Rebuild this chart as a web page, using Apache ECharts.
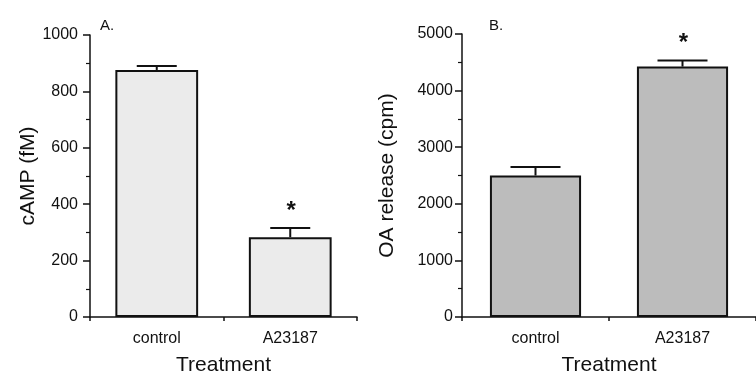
<!DOCTYPE html>
<html>
<head>
<meta charset="utf-8">
<script src="https://cdn.jsdelivr.net/npm/echarts@6/dist/echarts.min.js"></script>
<style>
  html, body { margin: 0; padding: 0; background: #fff; }
  #chart { width: 756px; height: 381px; }
</style>
</head>
<body>
<div id="chart"></div>
<script>
// categories
const treatments = ['control', 'A23187'];
// panel A: cAMP (fM)
const campMean = [876, 283];
const campErrTop = [890, 316];
const campSig = ['', '*'];
// panel B: OA release (cpm)
const oaMean = [2500, 4424];
const oaErrTop = [2651, 4534];
const oaSig = ['', '*'];

const FONT = 'Liberation Sans, Arial, Helvetica, sans-serif';

// error bar + asterisk drawn from the data through the axis scale
const errorSeries = (gridIndex, tops, sig, capHalf) => ({
    type: 'custom',
    xAxisIndex: gridIndex,
    yAxisIndex: gridIndex,
    data: tops.map((v, i) => [i, v]),
    z: 1,
    renderItem: function (params, api) {
        const idx = params.dataIndex;
        const top = api.coord([api.value(0), api.value(1)]);
        const base = api.coord([api.value(0), gridIndex === 0 ? campMean[idx] : oaMean[idx]]);
        const children = [
            { type: 'line', shape: { x1: top[0], y1: top[1], x2: base[0], y2: base[1] },
              style: { stroke: '#111', lineWidth: 2 } },
            { type: 'line', shape: { x1: top[0] - capHalf, y1: top[1], x2: top[0] + capHalf, y2: top[1] },
              style: { stroke: '#111', lineWidth: 2 } }
        ];
        if (sig[idx]) {
            children.push({
                type: 'text',
                style: { text: sig[idx], x: top[0] + 1, y: top[1] - 17, fill: '#111',
                         font: 'bold 24px ' + FONT, textAlign: 'center', textVerticalAlign: 'middle' }
            });
        }
        return { type: 'group', children: children };
    }
});

const yAxisCommon = {
    type: 'value',
    min: 0,
    splitLine: { show: false },
    axisLine: { show: true, lineStyle: { color: '#111', width: 1.5 } },
    axisTick: { show: true, length: 7, lineStyle: { color: '#111', width: 1.5 } },
    minorTick: { show: true, splitNumber: 2, length: 4, lineStyle: { color: '#111', width: 1.2 } },
    nameLocation: 'middle',
    nameTextStyle: { fontFamily: FONT, fontSize: 21, color: '#111' }
};

const xAxisCommon = {
    type: 'category',
    data: treatments,
    axisLine: { show: true, lineStyle: { color: '#111', width: 1.5 } },
    axisTick: { show: true, length: 4, lineStyle: { color: '#111', width: 1.5 } },
    axisLabel: { fontFamily: FONT, fontSize: 16, color: '#111', margin: 14 },
    name: 'Treatment',
    nameLocation: 'middle',
    nameGap: 38,
    nameTextStyle: { fontFamily: FONT, fontSize: 21, color: '#111' }
};

var chart = echarts.init(document.getElementById('chart'));
var option = {
    animation: false,
    backgroundColor: '#fff',
    grid: [
        { left: 90, right: 399, top: 35, bottom: 60 },
        { left: 462, right: -4, top: 34, bottom: 60 }
    ],
    title: [
        { text: 'A.', left: 95, top: 13, textStyle: { fontFamily: FONT, fontSize: 15, fontWeight: 'normal', color: '#111' } },
        { text: 'B.', left: 484, top: 13, textStyle: { fontFamily: FONT, fontSize: 15, fontWeight: 'normal', color: '#111' } }
    ],
    xAxis: [
        Object.assign({ gridIndex: 0 }, xAxisCommon),
        Object.assign({ gridIndex: 1 }, xAxisCommon)
    ],
    yAxis: [
        Object.assign({}, yAxisCommon, {
            gridIndex: 0, max: 1000, interval: 200,
            name: 'cAMP (fM)', nameGap: 50,
            axisLabel: { fontFamily: FONT, fontSize: 16, color: '#111', margin: 12, formatter: v => String(v) }
        }),
        Object.assign({}, yAxisCommon, {
            gridIndex: 1, max: 5000, interval: 1000,
            name: 'OA release (cpm)', nameGap: 64,
            axisLabel: { fontFamily: FONT, fontSize: 16, color: '#111', margin: 9, formatter: v => String(v) }
        })
    ],
    series: [
        {
            type: 'bar', xAxisIndex: 0, yAxisIndex: 0, data: campMean, barWidth: '62%', z: 2,
            itemStyle: { color: '#ebebeb', borderColor: '#111', borderWidth: 2 }
        },
        {
            type: 'bar', xAxisIndex: 1, yAxisIndex: 1, data: oaMean, barWidth: '62%', z: 2,
            itemStyle: { color: '#bcbcbc', borderColor: '#111', borderWidth: 2 }
        },
        errorSeries(0, campErrTop, campSig, 20),
        errorSeries(1, oaErrTop, oaSig, 25)
    ]
};
option && chart.setOption(option);
</script>
</body>
</html>
